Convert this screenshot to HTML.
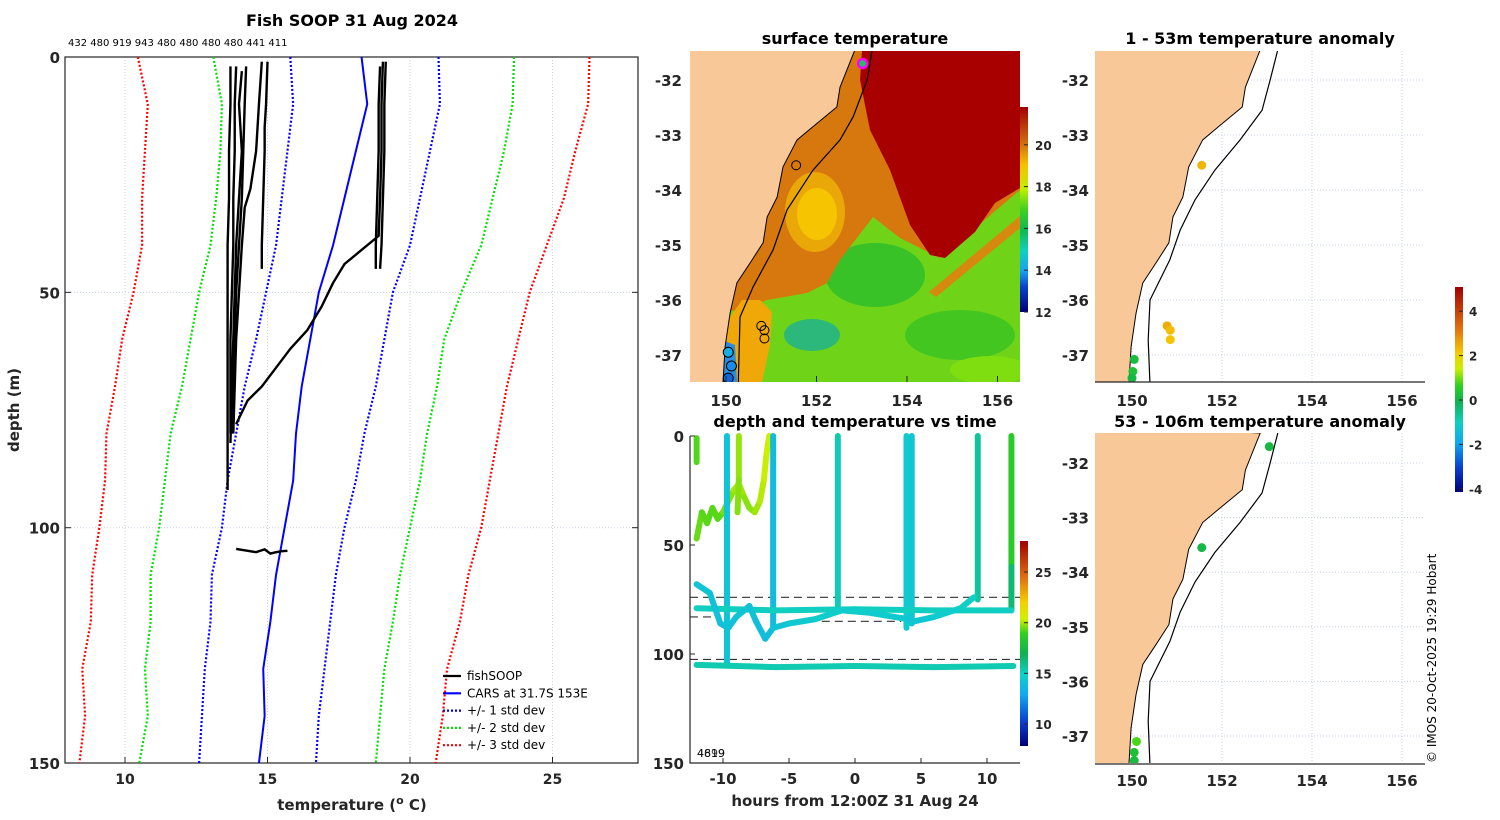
<!DOCTYPE html>
<html><head><meta charset="utf-8"><style>
html,body{margin:0;padding:0;background:#fff;}
svg{display:block;font-family:"DejaVu Sans","Liberation Sans",sans-serif;}
</style></head><body>
<svg id="fig" width="1500" height="820" viewBox="0 0 1500 820" xmlns="http://www.w3.org/2000/svg">
<defs>
<linearGradient id="gSST" x1="0" y1="1" x2="0" y2="0">
<stop offset="0" stop-color="#00007a"/><stop offset="0.12" stop-color="#0a3fc8"/><stop offset="0.2" stop-color="#1aa0f0"/><stop offset="0.3" stop-color="#10d0c0"/><stop offset="0.4" stop-color="#10b850"/><stop offset="0.5" stop-color="#40d020"/><stop offset="0.6" stop-color="#c0f000"/><stop offset="0.72" stop-color="#f5c000"/><stop offset="0.82" stop-color="#d07010"/><stop offset="1" stop-color="#a00000"/>
</linearGradient>
<linearGradient id="gTime" x1="0" y1="1" x2="0" y2="0">
<stop offset="0" stop-color="#00007a"/><stop offset="0.12" stop-color="#0a40d0"/><stop offset="0.25" stop-color="#10a8f0"/><stop offset="0.35" stop-color="#10d0c8"/><stop offset="0.45" stop-color="#10b050"/><stop offset="0.55" stop-color="#30d020"/><stop offset="0.62" stop-color="#d0f000"/><stop offset="0.7" stop-color="#f5d000"/><stop offset="0.82" stop-color="#e07010"/><stop offset="1" stop-color="#a00000"/>
</linearGradient>
<linearGradient id="gAnom" x1="0" y1="1" x2="0" y2="0">
<stop offset="0" stop-color="#00007a"/><stop offset="0.12" stop-color="#0a40d0"/><stop offset="0.24" stop-color="#10a8f0"/><stop offset="0.34" stop-color="#10d0c0"/><stop offset="0.44" stop-color="#10b050"/><stop offset="0.52" stop-color="#30d020"/><stop offset="0.6" stop-color="#c8f000"/><stop offset="0.68" stop-color="#f5c800"/><stop offset="0.8" stop-color="#e07010"/><stop offset="1" stop-color="#a00000"/>
</linearGradient>
<clipPath id="cMap"><rect x="690" y="51" width="330" height="331"/></clipPath>
<clipPath id="cR1"><rect x="1095" y="51" width="330" height="331"/></clipPath>
<clipPath id="cR2"><rect x="1095" y="433" width="330" height="330"/></clipPath>
<clipPath id="cLeft"><rect x="65" y="57" width="573" height="706"/></clipPath>
</defs>
</svg>
<script>
// ---------- data ----------
const sdDepths=[0,10,20,30,40,50,60,70,80,90,100,110,120,130,140,150];
const carsMean=[18.3,18.5,18.1,17.7,17.3,16.8,16.5,16.2,16.0,15.9,15.6,15.3,15.1,14.85,14.9,14.7];
const sd1Lo=[15.8,15.9,15.7,15.5,15.3,14.95,14.6,14.2,13.9,13.6,13.4,13.05,13.0,12.8,12.7,12.6];
const sd1Hi=[21.0,21.05,20.7,20.35,20.0,19.4,19.1,18.8,18.4,18.1,17.7,17.4,17.2,17.0,16.8,16.7];
const sd2Lo=[13.1,13.4,13.35,13.2,13.0,12.6,12.3,12.0,11.6,11.4,11.2,10.9,10.9,10.7,10.8,10.5];
const sd2Hi=[23.65,23.6,23.3,22.9,22.5,21.8,21.2,20.95,20.6,20.35,20.0,19.65,19.4,19.1,18.95,18.8];
const sd3Lo=[10.45,10.8,10.7,10.6,10.6,10.3,9.9,9.65,9.35,9.3,9.1,8.85,8.8,8.5,8.6,8.4];
const sd3Hi=[26.3,26.25,25.8,25.4,24.8,24.2,23.8,23.4,23.1,22.8,22.5,22.05,21.75,21.3,21.15,20.9];
const profDepths=[[2,10,20,30,40,50,60,70,80,92],[2,10,20,30,40,50,60,70,80],[3,10,20,30,40,50,60,70,82],[2,10,20,30,40,50,60,70,80],[1,10,20,28,32,40,50,60,70,80],[1,10,15,20,30,40,45],[1,10,20,30,40,45],[2,10,20,30,40,45],[1,10,20,30,38,41,44,48,53,58,62,66,70,73,78]];
const profTemps=[[13.7,13.7,13.65,13.65,13.6,13.6,13.6,13.6,13.6,13.6],[13.9,13.85,13.85,13.8,13.8,13.75,13.7,13.7,13.7],[14.1,14.0,14.1,14.0,13.9,13.85,13.8,13.75,13.7],[14.25,14.2,14.15,14.1,14.0,13.9,13.85,13.8,13.75],[14.8,14.7,14.6,14.4,14.2,14.1,14.0,13.9,13.85,13.8],[15.0,14.95,14.9,14.9,14.85,14.8,14.8],[19.15,19.1,19.1,19.05,19.0,18.95],[18.95,18.9,18.9,18.85,18.8,18.8],[19.05,19.0,19.0,18.95,18.9,18.3,17.7,17.3,16.9,16.4,15.8,15.3,14.8,14.3,13.9]];
const botDepths=[104.5,104.8,105.2,104.6,105.5,105.2,105.0,104.9];
const botTemps=[13.9,14.2,14.6,14.9,15.1,15.3,15.5,15.7];
const countLabels="432 480 919 943 480 480 480 480 441 411";
// map data
const coastLon=[152.85,152.52,152.45,151.92,151.57,151.26,151.13,150.91,150.82,150.53,150.24,150.09,149.98,149.93];
const coastLat=[-31.45,-32.13,-32.49,-32.85,-33.09,-33.58,-34.13,-34.49,-34.96,-35.33,-35.69,-36.24,-36.85,-37.55];
const isoLon=[153.23,153.12,152.81,152.52,151.92,151.35,151.04,150.6,150.31,150.27];
const isoLat=[-31.45,-32.0,-32.67,-33.09,-33.64,-34.36,-35.09,-35.76,-36.31,-37.55];
const isoRLon=[153.24,153.07,152.89,152.4,151.84,151.4,151.07,150.84,150.4,150.36,150.4];
const isoRLat=[-31.45,-32.0,-32.55,-33.09,-33.64,-34.18,-34.73,-35.27,-36.0,-36.73,-37.55];
const obsLon=[151.55,150.78,150.85,150.85];
const obsLat=[-33.55,-36.47,-36.55,-36.7];
const coldLon=[150.05,150.12,150.05];
const coldLat=[-36.95,-37.2,-37.42];
const coldTemp=[14.2,13.8,13.5];
const anomLon1=[151.55,150.78,150.85,150.85,150.05,150.02,150.0];
const anomLat1=[-33.55,-36.47,-36.55,-36.72,-37.08,-37.3,-37.42];
const anomVal1=[2.4,2.5,2.3,2.2,0.2,0.3,0.1];
const anomLon2=[153.05,151.55,150.1,150.05,150.05];
const anomLat2=[-31.7,-33.55,-37.1,-37.3,-37.45];
const anomVal2=[0.1,0.1,0.8,0.3,0.2];
// time panel
const trHours=[[-12,-12],[-12,-11.6,-11.2,-10.8,-10.4,-10,-9.6,-9.2,-8.8,-8.4,-8,-7.6,-7.2,-6.9,-6.7,-6.5],[-8.8,-8.8,-8.9],[-9.7,-9.7],[-6.2,-6.2],[-1.3,-1.3],[3.9,3.9],[4.3,4.3],[9.3,9.3],[11.85,11.85,11.85],[-12,-6,0,6,11.85],[-12,-11,-10.2,-9.6,-9,-8,-7.5,-6.8,-6.2,-5,-3,-1,1,3,4,4.5,6,8,9],[-12,-6,0,6,12]];
const trDepths=[[1,12],[47,35,40,33,38,35,30,25,22,28,33,35,30,20,8,0],[0,20,35],[0,104],[0,88],[0,80],[0,88],[0,86],[0,75],[0,60,80],[79,80,79.5,80,80],[68,72,86,88,83,78,85,93,88,86,84,80,81,83,84,85,83,79,74],[105,106,105.5,106,105.5]];
const trTemps=[[19.2,19.2],[19.3,19.5,19,19.5,19,19.5,19.6,19.8,20,19.8,19.6,19.8,20,20.2,20.3,20.3],[19.8,19.8,19.5],[14.2,14.2],[13.8,13.8],[15.2,15.2],[14.6,14.6],[14.4,14.4],[15.6,15.6],[19.5,17.5,15.2],[15.0,15.0,15.0,15.0,15.0],[14.2,14.2,14.0,14.0,14.2,14.2,14.0,13.8,14.0,14.4,14.6,14.8,14.6,14.6,14.4,14.2,14.5,14.8,15.0],[15.2,15.3,15.2,15.3,15.2]];
const dashH=[[-12.5,12.5,74],[-12.5,-10.2,83],[6,7.5,80],[-3.5,3.5,85],[-12.5,12.5,102.5]];

// ---------- helpers ----------
const NS='http://www.w3.org/2000/svg';
const svg=document.getElementById('fig');
function mk(tag,attrs,parent){const e=document.createElementNS(NS,tag);for(const k in attrs)e.setAttribute(k,attrs[k]);(parent||svg).appendChild(e);return e;}
function tx(x,y,s,attrs,parent){const e=mk('text',Object.assign({x:x,y:y,'font-size':14,'font-weight':'bold',fill:'#262626'},attrs||{}),parent);e.textContent=s;return e;}
function interp(stops,v){if(v<=stops[0][0])return 'rgb('+stops[0][1].join(',')+')';for(let i=1;i<stops.length;i++){if(v<=stops[i][0]){const a=stops[i-1],b=stops[i],f=(v-a[0])/(b[0]-a[0]);const c=[0,1,2].map(k=>Math.round(a[1][k]+(b[1][k]-a[1][k])*f));return 'rgb('+c.join(',')+')';}}return 'rgb('+stops[stops.length-1][1].join(',')+')';}
const jet=[[0,[0,0,122]],[0.12,[10,64,208]],[0.25,[16,168,240]],[0.35,[16,208,200]],[0.45,[16,176,80]],[0.55,[48,208,32]],[0.62,[208,240,0]],[0.7,[245,208,0]],[0.82,[224,112,16]],[1,[160,0,0]]];
function timeCol(t){return interp(jet,(t-7.8)/(28-7.8));}
function anomCol(a){return interp([[0,[0,0,122]],[0.12,[10,64,208]],[0.24,[16,168,240]],[0.34,[16,208,192]],[0.44,[16,176,80]],[0.52,[48,208,32]],[0.6,[200,240,0]],[0.68,[245,200,0]],[0.8,[224,112,16]],[1,[160,0,0]]],(a+4.1)/9.2);}
function sstCol(t){return interp([[0,[0,0,122]],[0.12,[10,63,200]],[0.2,[26,160,240]],[0.3,[16,208,192]],[0.4,[16,184,80]],[0.5,[64,208,32]],[0.6,[192,240,0]],[0.72,[245,192,0]],[0.82,[208,112,16]],[1,[160,0,0]]],(t-12)/9.8);}

// ================= LEFT PANEL =================
const LX=t=>125+(t-10)*28.5, LY=d=>57+d*4.707;
tx(352,26,'Fish SOOP 31 Aug 2024',{'font-size':16,'text-anchor':'middle',fill:'#000'});
const cl=tx(68,46,countLabels,{'font-size':10,'font-weight':'normal',fill:'#000'});


[10,15,20,25].forEach(v=>{
  const g=mk('line',{x1:LX(v),x2:LX(v),y1:57,y2:763,stroke:'#c8d0e8','stroke-width':1,'stroke-dasharray':'1,2'});
  
  
  const tk=mk('line',{x1:LX(v),x2:LX(v),y1:763,y2:757,stroke:'#262626'});
  
  const t=tx(LX(v),784,String(v),{'text-anchor':'middle'});
  
});
[0,50,100,150].forEach(v=>{
  if(v>0&&v<150){const g=mk('line',{x1:65,x2:638,y1:LY(v),y2:LY(v),stroke:'#c8d0e8','stroke-width':1,'stroke-dasharray':'1,2'});
  }
  const tk=mk('line',{x1:65,x2:71,y1:LY(v),y2:LY(v),stroke:'#262626'});
  
  const tk2=mk('line',{x1:632,x2:638,y1:LY(v),y2:LY(v),stroke:'#262626'});
  
  const t=tx(60,LY(v)+6,String(v),{'text-anchor':'end','font-size':15});
  
});
const fr=mk('rect',{x:65,y:57,width:573,height:706,fill:'none',stroke:'#262626','stroke-width':1.2});


const yt=tx(0,0,'depth (m)',{'font-size':15,transform:'translate(19,410) rotate(-90)','text-anchor':'middle'});

const xt=mk('text',{x:352,y:810,'font-size':15,'font-weight':'bold',fill:'#262626','text-anchor':'middle'});
xt.innerHTML='temperature (<tspan font-size="11" dy="-6">o</tspan><tspan dy="6"> C)</tspan>';

const lg=mk('g',{'clip-path':'url(#cLeft)'});
function sdLine(arr,col,name){const p=mk('polyline',{points:arr.map((t,i)=>LX(t)+','+LY(sdDepths[i])).join(' '),fill:'none',stroke:col,'stroke-width':2.2,'stroke-dasharray':'2,2'},lg);}
sdLine(sd3Lo,'#ff0000','sd3-lower-line');sdLine(sd3Hi,'#ff0000','sd3-upper-line');
sdLine(sd2Lo,'#00e000','sd2-lower-line');sdLine(sd2Hi,'#00e000','sd2-upper-line');
sdLine(sd1Lo,'#0000ff','sd1-lower-line');sdLine(sd1Hi,'#0000ff','sd1-upper-line');
const cm=mk('polyline',{points:carsMean.map((t,i)=>LX(t)+','+LY(sdDepths[i])).join(' '),fill:'none',stroke:'#0000ff','stroke-width':2},lg);

profTemps.forEach((ts,j)=>{const p=mk('polyline',{points:ts.map((t,i)=>LX(t)+','+LY(profDepths[j][i])).join(' '),fill:'none',stroke:'#000','stroke-width':2.4,'stroke-linejoin':'round'},lg);
  });
const bp=mk('polyline',{points:botTemps.map((t,i)=>LX(t)+','+LY(botDepths[i])).join(' '),fill:'none',stroke:'#000','stroke-width':2.4},lg);

// legend
const legItems=[['fishSOOP','#000',''],['CARS at 31.7S 153E','#0000ff',''],['+/- 1 std dev','#0000ff','2,2'],['+/- 2 std dev','#00e000','2,2'],['+/- 3 std dev','#ff0000','2,2']];
legItems.forEach((it,i)=>{const y=676+i*17.3;
  const l=mk('line',{x1:443,x2:461,y1:y,y2:y,stroke:it[1],'stroke-width':2.2,'stroke-dasharray':it[2]||'none'});
  
  const t=tx(467,y+4,it[0],{'font-size':12,'font-weight':'normal',fill:'#000'});
  });

// ================= SURFACE TEMPERATURE MAP =================
const MX=l=>726+(l-150)*45.25, MY=a=>80-(a+32)*55;
tx(855,44,'surface temperature',{'font-size':16,'text-anchor':'middle',fill:'#000'});
const mg=mk('g',{'clip-path':'url(#cMap)'});

const F=[['rect',{x:690,y:51,width:330,height:331,fill:'#6fd418'}],
['ellipse',{cx:875,cy:275,rx:50,ry:32,fill:'#38c228'}],
['ellipse',{cx:960,cy:335,rx:55,ry:25,fill:'#44c620'}],
['ellipse',{cx:812,cy:335,rx:28,ry:16,fill:'#2cb87a'}],
['ellipse',{cx:990,cy:370,rx:40,ry:14,fill:'#7ede10'}],
['polygon',{points:'690,51 1020,51 1020,190 940,258 900,238 873,217 840,260 827,283 807,293 767,300 750,307 690,320',fill:'#d7780e'}],
['polygon',{points:'1020,216 1020,228 936,297 929,292',fill:'#d7880e'}],
['polygon',{points:'862,51 1020,51 1020,188 995,203 975,232 945,258 930,255 910,225 890,170 870,130 860,80',fill:'#a80000'}],
['ellipse',{cx:815,cy:212,rx:30,ry:40,fill:'#eaa808'}],
['ellipse',{cx:817,cy:214,rx:20,ry:26,fill:'#f6c400'}],
['polygon',{points:'742,300 760,300 772,312 770,345 762,382 720,382 728,320',fill:'#f0a808'}],
['polygon',{points:'722,340 735,345 737,382 720,382',fill:'#2a8ce0'}]];
F.forEach(f=>{const e=mk(f[0],f[1],mg);});
const landPts=coastLon.map((l,i)=>MX(l)+','+MY(coastLat[i])).join(' ')+' '+MX(149.0)+','+MY(-37.6)+' '+MX(149.0)+','+MY(-31.4);
const land=mk('polygon',{points:landPts,fill:'#f9c898',stroke:'#000','stroke-width':1},mg);

const iso=mk('polyline',{points:isoLon.map((l,i)=>MX(l)+','+MY(isoLat[i])).join(' '),fill:'none',stroke:'#000','stroke-width':1.2},mg);

obsLon.forEach((l,i)=>{const c=mk('circle',{cx:MX(l),cy:MY(obsLat[i]),r:4.5,fill:'none',stroke:'#000','stroke-width':1},mg);});
coldLon.forEach((l,i)=>{const c=mk('circle',{cx:MX(l),cy:MY(coldLat[i]),r:5,fill:sstCol(coldTemp[i]),stroke:'#000','stroke-width':1},mg);});
const cur=mk('circle',{cx:MX(153.02),cy:MY(-31.7),r:4.5,fill:'#20c060',stroke:'#ff00ff','stroke-width':2.5},mg);


[150,152,154,156].forEach(v=>{const t=tx(MX(v),406,String(v),{'text-anchor':'middle','font-size':15});
  const k=mk('line',{x1:MX(v),x2:MX(v),y1:382,y2:376,stroke:'#262626'});});
[-32,-33,-34,-35,-36,-37].forEach(v=>{const t=tx(682,MY(v)+6,String(v),{'text-anchor':'end','font-size':15});});
const cb1=mk('rect',{x:1020,y:107,width:8,height:205,fill:'url(#gSST)'});

[12,14,16,18,20].forEach(v=>{const y=312-(v-12)*20.9;const k=mk('line',{x1:1024,x2:1028,y1:y,y2:y,stroke:'#262626'});
  const t=tx(1035,y+5,String(v),{'font-size':12});});

// ================= DEPTH-TIME PANEL =================
const TX=h=>855+h*13.2, TY=d=>436+d*2.18;
tx(855,427,'depth and temperature vs time',{'font-size':16,'text-anchor':'middle',fill:'#000'});
dashH.forEach(d=>{const l=mk('line',{x1:TX(d[0]),x2:TX(d[1]),y1:TY(d[2]),y2:TY(d[2]),stroke:'#333','stroke-width':1.2,'stroke-dasharray':'8,5'});});
trHours.forEach((hs,j)=>{
  for(let i=0;i<hs.length-1;i++){
    const s=mk('line',{x1:TX(hs[i]),y1:TY(trDepths[j][i]),x2:TX(hs[i+1]),y2:TY(trDepths[j][i+1]),stroke:timeCol((trTemps[j][i]+trTemps[j][i+1])/2),'stroke-width':6,'stroke-linecap':'round'});
    
    
  }});
const ax=mk('polyline',{points:'690,436 690,763 1020,763',fill:'none',stroke:'#262626','stroke-width':1.2});

[-10,-5,0,5,10].forEach(v=>{const k=mk('line',{x1:TX(v),x2:TX(v),y1:763,y2:758,stroke:'#262626'});
  const t=tx(TX(v),784,String(v),{'text-anchor':'middle','font-size':15});});
[0,50,100,150].forEach(v=>{const k=mk('line',{x1:690,x2:695,y1:TY(v),y2:TY(v),stroke:'#262626'});
  const t=tx(684,TY(v)+6,String(v),{'text-anchor':'end','font-size':15});});
tx(855,806,'hours from 12:00Z 31 Aug 24',{'font-size':15,'text-anchor':'middle'});
tx(697,757,'4819',{'font-size':11,'font-weight':'normal',fill:'#111'});
tx(697,757,'4699',{'font-size':11,'font-weight':'normal',fill:'#111','fill-opacity':0.8});
const cb2=mk('rect',{x:1020,y:541,width:8,height:205,fill:'url(#gTime)'});

[10,15,20,25].forEach(v=>{const y=724-(v-10)*10.13;const k=mk('line',{x1:1024,x2:1028,y1:y,y2:y,stroke:'#262626'});
  const t=tx(1035,y+5,String(v),{'font-size':12});});

// ================= ANOMALY PANELS =================
function anomPanel(y0,latTop,pxDeg,lat32,clip,title,titleY,lons,lats,vals,name){
  const AX=l=>1132+(l-150)*45, AY=a=>lat32-(a+32)*pxDeg;
  tx(1260,titleY,title,{'font-size':16,'text-anchor':'middle',fill:'#000'});
  const g=mk('g',{'clip-path':'url('+clip+')'});
  
  [150,152,154,156].forEach(v=>{const l=mk('line',{x1:AX(v),x2:AX(v),y1:y0,y2:y0+331,stroke:'#c8d0e8','stroke-dasharray':'1,2'},g);});
  [-32,-33,-34,-35,-36,-37].forEach(v=>{const l=mk('line',{x1:1095,x2:1425,y1:AY(v),y2:AY(v),stroke:'#c8d0e8','stroke-dasharray':'1,2'},g);
    const t=tx(1089,AY(v)+6,String(v),{'text-anchor':'end','font-size':15});});
  const lp=coastLon.map((l,i)=>AX(l)+','+AY(coastLat[i])).join(' ')+' '+AX(148.9)+','+AY(-37.7)+' '+AX(148.9)+','+AY(-31.3);
  const ld=mk('polygon',{points:lp,fill:'#f9c898',stroke:'#000','stroke-width':1},g);
  const is=mk('polyline',{points:isoRLon.map((l,i)=>AX(l)+','+AY(isoRLat[i])).join(' '),fill:'none',stroke:'#000','stroke-width':1.2},g);
  lons.forEach((l,i)=>{const c=mk('circle',{cx:AX(l),cy:AY(lats[i]),r:4.5,fill:anomCol(vals[i])},g);});
  const b=mk('line',{x1:1095,x2:1425,y1:y0+331,y2:y0+331,stroke:'#262626','stroke-width':1.2});
}
anomPanel(51,-31.47,55,80,'#cR1','1 - 53m temperature anomaly',44,anomLon1,anomLat1,anomVal1,'anomaly-shallow');
anomPanel(433,-31.45,54.6,463,'#cR2','53 - 106m temperature anomaly',427,anomLon2,anomLat2,anomVal2,'anomaly-deep');
[150,152,154,156].forEach(v=>{const t=tx(1132+(v-150)*45,406,String(v),{'text-anchor':'middle','font-size':15});});
[150,152,154,156].forEach(v=>{const t=tx(1132+(v-150)*45,786,String(v),{'text-anchor':'middle','font-size':15});});
const cb3=mk('rect',{x:1455,y:287,width:8,height:205,fill:'url(#gAnom)'});

[-4,-2,0,2,4].forEach(v=>{const y=400-v*22.2;const k=mk('line',{x1:1459,x2:1463,y1:y,y2:y,stroke:'#262626'});
  const t=tx(1469,y+5,String(v),{'font-size':12});});
tx(0,0,'© IMOS 20-Oct-2025 19:29 Hobart',{'font-size':12,'font-weight':'normal',fill:'#000',transform:'translate(1436,763) rotate(-90)'});
</script>
</body></html>
